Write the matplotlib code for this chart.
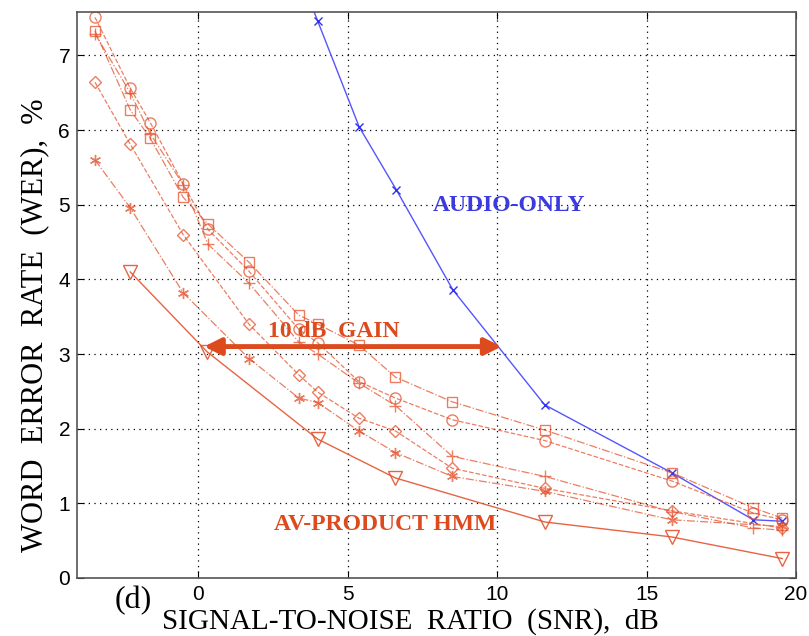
import matplotlib
matplotlib.use("Agg")
import matplotlib.pyplot as plt

# SNR (dB) positions of the measurements
snr_full = [-3.45, -2.27, -1.6, -0.5, 0.33, 1.7, 3.37, 4.0, 5.38, 6.6, 8.5, 11.6, 15.84, 18.57, 19.54]
snr_short = [-3.45, -2.27, -0.5, 1.7, 3.37, 4.0, 5.38, 6.6, 8.5, 11.6, 15.84, 19.54]
snr_tri = [-2.27, 0.3, 4.0, 6.6, 11.6, 15.84, 19.54]
snr_audio = [3.37, 4.0, 5.39, 6.63, 8.52, 11.59, 15.84, 18.57, 19.54]

# WER (%) of each system
wer_square = [7.33, 6.27, 5.89, 5.10, 4.74, 4.23, 3.52, 3.40, 3.12, 2.69, 2.36, 1.98, 1.41, 0.94, 0.80]
wer_circle = [7.51, 6.56, 6.10, 5.28, 4.67, 4.11, 3.33, 3.15, 2.63, 2.41, 2.12, 1.84, 1.30, 0.87, 0.78]
wer_plus = [7.29, 6.50, 5.95, 5.27, 4.47, 3.95, 3.16, 3.00, 2.61, 2.31, 1.63, 1.36, 0.89, 0.67, 0.64]
wer_diamond = [6.64, 5.81, 4.60, 3.40, 2.72, 2.49, 2.14, 1.97, 1.47, 1.20, 0.90, 0.67]
wer_star = [5.60, 4.96, 3.82, 2.94, 2.41, 2.35, 1.97, 1.68, 1.36, 1.16, 0.78, 0.69]
wer_tri = [4.10, 3.03, 1.86, 1.34, 0.75, 0.55, 0.26]
wer_audio = [8.1, 7.46, 6.04, 5.20, 3.86, 2.32, 1.41, 0.78, 0.76]

red = '#e4532f'
blue = '#5555ff'
serif = ['Liberation Serif', 'DejaVu Serif']
narrow = ['Liberation Sans Narrow', 'Liberation Sans', 'DejaVu Sans']

fig = plt.figure(figsize=(8.09, 6.36), dpi=100)
ax = fig.add_axes([0.0952, 0.0912, 0.8888, 0.8898])

ax.plot(snr_audio, wer_audio, color=blue, lw=1.0, marker='x', ms=6, mec='#3333ee', mew=1.0)
ax.plot(snr_full, wer_square, color=red, lw=0.9, ls='-.', marker='s', ms=7, mfc='none', mew=1.0, alpha=0.75)
ax.plot(snr_full, wer_circle, color=red, lw=0.9, ls='--', marker='o', ms=8, mfc='none', mew=1.0, alpha=0.75)
ax.plot(snr_full, wer_plus, color=red, lw=0.9, ls='-.', marker='+', ms=9, mew=1.0, alpha=0.75)
ax.plot(snr_short, wer_diamond, color=red, lw=0.9, ls='--', marker='D', ms=6, mfc='none', mew=1.0, alpha=0.75)
ax.plot(snr_short, wer_star, color=red, lw=0.9, ls='-.', marker=(6, 2, 0), ms=8, mew=1.0, alpha=0.75)
ax.plot(snr_tri, wer_tri, color=red, lw=1.0, ls='-', marker='v', ms=10, mfc='none', mew=1.0, alpha=0.9)

# 10 dB gain arrow
ax.annotate('', xy=(0.2, 3.1), xytext=(10.15, 3.1),
            arrowprops=dict(arrowstyle='<|-|>', color='#dc4a1e', lw=3.5,
                            mutation_scale=25, shrinkA=0, shrinkB=0))
ax.text(4.55, 3.3, '10 dB  GAIN', color='#dc4a1e', fontsize=17, fontweight='bold',
        family=serif, ha='center', va='center')
ax.text(10.4, 4.99, 'AUDIO-ONLY', color='#3a3adf', fontsize=17, fontweight='bold',
        family=serif, ha='center', va='center')
ax.text(6.24, 0.72, 'AV-PRODUCT HMM', color='#dc4a1e', fontsize=17, fontweight='bold',
        family=serif, ha='center', va='center')

ax.set_xlim(-4.05, 20)
ax.set_ylim(0, 7.58)
ax.set_xticks([0, 5, 10, 15, 20])
ax.set_yticks(range(8))
ax.grid(True, color='black', ls=(0, (1, 3.5)), lw=0.9)
ax.tick_params(direction='in', top=True, right=True, length=5, labelsize=15, pad=5)
for lab in ax.get_xticklabels() + ax.get_yticklabels():
    lab.set_family(narrow)
for s in ax.spines.values():
    s.set_color('#555555')
    s.set_linewidth(1.2)

ax.set_xlabel('SIGNAL-TO-NOISE  RATIO  (SNR),  dB', family=serif, fontsize=21, va='center')
ax.xaxis.set_label_coords((410 - 77) / 719, -(622 - 578) / 566)
ax.set_ylabel('WORD  ERROR  RATE  (WER),  %', family=serif, fontsize=22, va='center')
ax.yaxis.set_label_coords((35 - 77) / 719, (578 - 325) / 566)
fig.text(133 / 809, 1 - 601 / 636, '(d)', family=serif, fontsize=23, ha='center', va='center')

fig.savefig('out.png', dpi=100)
